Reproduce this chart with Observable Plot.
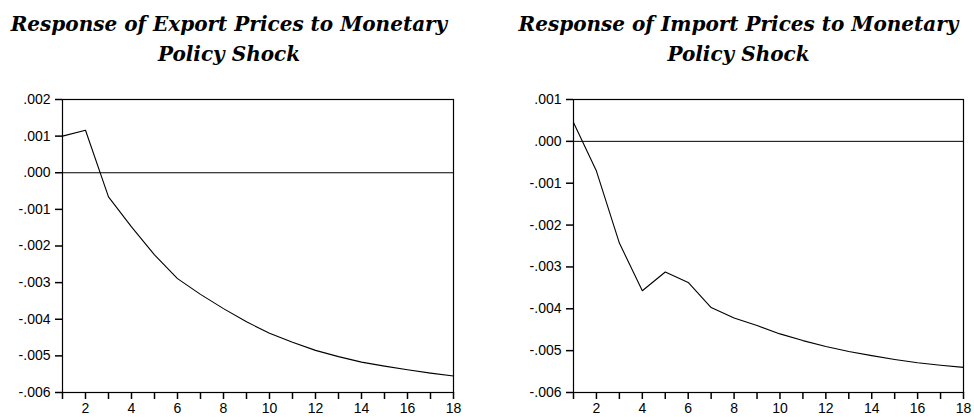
<!DOCTYPE html>
<html>
<head>
<meta charset="utf-8">
<script src="https://cdn.jsdelivr.net/npm/d3@7"></script>
<script src="https://cdn.jsdelivr.net/npm/@observablehq/plot@0.6"></script>
<style>
  html, body { margin: 0; padding: 0; background: #fff; }
  #root { position: relative; width: 974px; height: 417px; overflow: hidden; background: #fff; }
  .title { position: absolute; top: 9px; width: 520px; text-align: center;
    font-family: "DejaVu Serif", serif; font-weight: bold; font-style: italic;
    font-size: 20px; line-height: 30px; color: #000; }
  .panel { position: absolute; top: 90px; }
</style>
</head>
<body>
<div id="root"></div>
<script>
const periods = [1, 2, 3, 4, 5, 6, 7, 8, 9, 10, 11, 12, 13, 14, 15, 16, 17, 18];
const exportResp = [0.00100, 0.00116, -0.00066, -0.00148, -0.00224, -0.00289, -0.00332, -0.00371, -0.00407, -0.00438, -0.00463, -0.00485, -0.00502, -0.00517, -0.00528, -0.00538, -0.00547, -0.00555];
const importResp = [0.00045, -0.00071, -0.00243, -0.00357, -0.00312, -0.00337, -0.00397, -0.00422, -0.00440, -0.00460, -0.00476, -0.00490, -0.00502, -0.00512, -0.00521, -0.00529, -0.00535, -0.00540];
const exportTicks = [-0.006, -0.005, -0.004, -0.003, -0.002, -0.001, 0, 0.001, 0.002];
const importTicks = [-0.006, -0.005, -0.004, -0.003, -0.002, -0.001, 0, 0.001];
const titleLines = [["Response of Export Prices to Monetary", "Policy Shock"], ["Response of Import Prices to Monetary", "Policy Shock"]];

const fmt = v => d3.format(".3f")(v).replace("\u2212", "-").replace(/^(-?)0\./, "$1.");

function panel(values, ticks, opts) {
  const data = periods.map((p, i) => ({p, v: values[i]}));
  const H = 327, mT = 9, mB = 25;
  const tl = 7;
  return Plot.plot({
    width: opts.width,
    height: H,
    marginLeft: opts.marginLeft,
    marginRight: opts.marginRight,
    marginTop: mT,
    marginBottom: mB,
    style: {fontFamily: "'Liberation Sans', Arial, sans-serif", fontSize: "14px", color: "#000", background: "#fff"},
    x: {domain: [1, 18]},
    y: {domain: [ticks[0], ticks[ticks.length - 1]]},
    marks: [
      Plot.frame({stroke: "#000", strokeWidth: 1.2}),
      Plot.ruleY([0], {stroke: "#000", strokeWidth: 1}),
      Plot.line(data, {x: "p", y: "v", stroke: "#000", strokeWidth: 1.1}),
      Plot.axisY({ticks, tickFormat: fmt, tickSize: tl, tickPadding: 5, label: null, fontSize: 14, fill: "#000", stroke: "#000", strokeWidth: 1.5}),
      Plot.axisX({ticks: periods, tickFormat: d => d % 2 === 0 ? String(d) : "", tickSize: tl, tickPadding: 4, label: null, fontSize: 14, fill: "#000", stroke: "#000", strokeWidth: 1.5})
    ]
  });
}

const root = document.getElementById("root");
const configs = [
  {values: exportResp, ticks: exportTicks, left: 0, width: 487, marginLeft: 62, marginRight: 34, titleCenter: 229},
  {values: importResp, ticks: importTicks, left: 487, width: 487, marginLeft: 86, marginRight: 11, titleCenter: 738.5}
];
configs.forEach((c, i) => {
  const t = document.createElement("div");
  t.className = "title";
  t.style.left = (c.titleCenter - 260) + "px";
  t.innerHTML = titleLines[i].join("<br>");
  root.appendChild(t);
  const d = document.createElement("div");
  d.className = "panel";
  d.style.left = c.left + "px";
  d.appendChild(panel(c.values, c.ticks, c));
  root.appendChild(d);
});
</script>
</body>
</html>
